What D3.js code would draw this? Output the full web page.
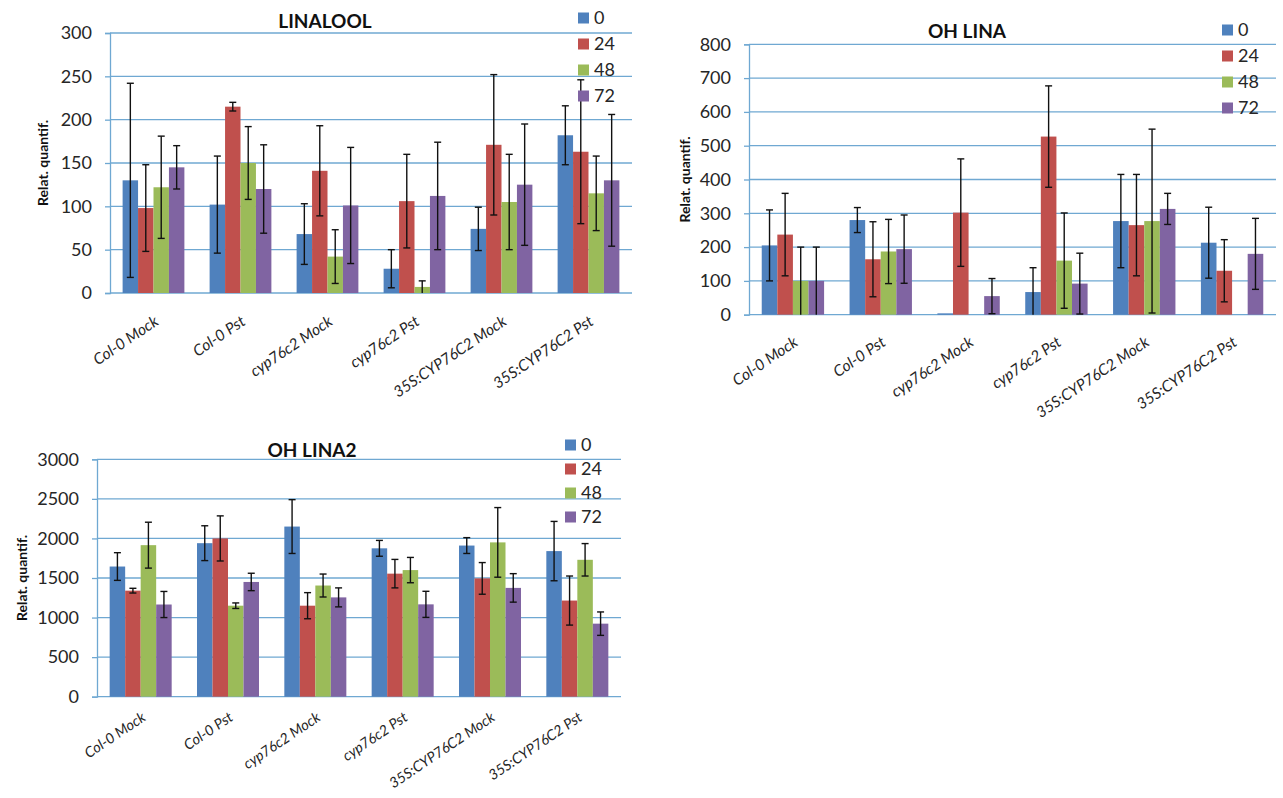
<!DOCTYPE html>
<html>
<head>
<meta charset="utf-8">
<script src="https://cdn.jsdelivr.net/npm/d3@7/dist/d3.min.js"></script>
<style>
  html, body { margin: 0; padding: 0; background: #ffffff; }
  svg { display: block; }
</style>
</head>
<body>
<svg id="chart" width="1283" height="798"></svg>
<script>
// ---------- DATA ----------
const categories = ["Col-0 Mock", "Col-0 Pst", "cyp76c2 Mock", "cyp76c2 Pst", "35S:CYP76C2 Mock", "35S:CYP76C2 Pst"];
const seriesNames = ["0", "24", "48", "72"];

// LINALOOL (rows = series 0, 24, 48, 72)
const linaloolMeans = [
  [130, 102, 68, 28, 74, 182],
  [98, 215, 141, 106, 171, 163],
  [122, 150, 42, 7, 105, 115],
  [145, 120, 101, 112, 125, 130]
];
const linaloolErrors = [
  [112, 56, 35, 22, 25, 34],
  [50, 5, 52, 54, 81, 83],
  [59, 42, 31, 7, 55, 43],
  [25, 51, 67, 62, 70, 76]
];
const linaloolTicks = [0, 50, 100, 150, 200, 250, 300];

// OH LINA
const ohLinaMeans = [
  [205, 280, 4, 67, 277, 213],
  [237, 164, 302, 527, 265, 130],
  [100, 187, 0, 160, 277, 0],
  [100, 194, 55, 92, 313, 180]
];
const ohLinaErrors = [
  [105, 37, 0, 72, 138, 105],
  [122, 111, 159, 150, 150, 92],
  [100, 95, 0, 141, 272, 0],
  [100, 101, 52, 90, 46, 105]
];
const ohLinaTicks = [0, 100, 200, 300, 400, 500, 600, 700, 800];

// OH LINA2
const ohLina2Means = [
  [1645, 1940, 2150, 1875, 1910, 1840],
  [1340, 2000, 1150, 1555, 1495, 1215],
  [1915, 1150, 1405, 1600, 1950, 1730],
  [1165, 1450, 1255, 1167, 1375, 923]
];
const ohLina2Errors = [
  [175, 220, 340, 100, 100, 375],
  [30, 285, 165, 180, 200, 310],
  [290, 35, 145, 160, 440, 205],
  [165, 110, 120, 165, 180, 148]
];
const ohLina2Ticks = [0, 500, 1000, 1500, 2000, 2500, 3000];

const titles = ["LINALOOL", "OH LINA", "OH LINA2"];
const yAxisLabel = "Relat. quantif.";

// ---------- STYLE / LAYOUT ----------
const colors = ["#4F81BD", "#C0504D", "#9BBB59", "#8064A2"];
const gridColor = "#6fa8d2";
const FONT = "Lato, 'Open Sans', sans-serif";

const charts = [
  { title: titles[0], means: linaloolMeans, errors: linaloolErrors, ticks: linaloolTicks,
    left: 110, right: 632, top: 33, bottom: 293, titleX: 325, titleY: 28,
    ylabX: 43, legX: 578, legY: 18, legStep: 26, labOff: 31, labSize: 15.5 },
  { title: titles[1], means: ohLinaMeans, errors: ohLinaErrors, ticks: ohLinaTicks,
    left: 749, right: 1276, top: 44.3, bottom: 314.7, titleX: 967, titleY: 38,
    ylabX: 685, legX: 1222, legY: 30, legStep: 26, labOff: 30, labSize: 15.5 },
  { title: titles[2], means: ohLina2Means, errors: ohLina2Errors, ticks: ohLina2Ticks,
    left: 97, right: 621, top: 459.3, bottom: 696.7, titleX: 312, titleY: 457,
    ylabX: 22, legX: 565, legY: 445, legStep: 24, labOff: 23, labSize: 14.5 }
];

const svg = d3.select("#chart");

function drawChart(cfg) {
  const g = svg.append("g");
  const maxV = d3.max(cfg.ticks);
  const x0 = d3.scaleBand().domain(categories).range([cfg.left, cfg.right])
    .paddingInner(0.29).paddingOuter(0.145);
  const x1 = d3.scaleBand().domain(seriesNames).range([0, x0.bandwidth()]);
  const y = d3.scaleLinear().domain([0, maxV]).range([cfg.bottom, cfg.top]).clamp(true);

  // gridlines
  g.append("g").selectAll("line").data(cfg.ticks).join("line")
    .attr("x1", cfg.left).attr("x2", cfg.right)
    .attr("y1", d => y(d)).attr("y2", d => y(d))
    .attr("stroke", gridColor).attr("stroke-width", 1.3);

  // y axis
  const ax = g.append("g").attr("transform", `translate(${cfg.left},0)`)
    .call(d3.axisLeft(y).tickValues(cfg.ticks).tickSize(5).tickPadding(13).tickFormat(d3.format("d")));
  ax.select(".domain").attr("stroke", gridColor).attr("stroke-width", 1.3);
  ax.selectAll(".tick line").attr("stroke", gridColor).attr("stroke-width", 1.3);
  ax.selectAll(".tick text").attr("font-family", FONT).attr("font-size", 18).attr("fill", "#262626");

  // bars
  const flat = [];
  cfg.means.forEach((row, si) => row.forEach((v, ci) => {
    flat.push({ s: seriesNames[si], si, c: categories[ci], v, e: cfg.errors[si][ci] });
  }));
  g.append("g").selectAll("rect").data(flat).join("rect")
    .attr("x", d => x0(d.c) + x1(d.s))
    .attr("y", d => y(d.v))
    .attr("width", x1.bandwidth())
    .attr("height", d => y(0) - y(d.v))
    .attr("fill", d => colors[d.si]);

  // error bars
  const eb = g.append("g").selectAll("g").data(flat.filter(d => d.e > 0)).join("g")
    .attr("stroke", "#111").attr("stroke-width", 1.4);
  const cx = d => x0(d.c) + x1(d.s) + x1.bandwidth() / 2;
  eb.append("line").attr("x1", cx).attr("x2", cx)
    .attr("y1", d => y(d.v + d.e)).attr("y2", d => y(d.v - d.e));
  eb.append("line").attr("x1", d => cx(d) - 3.5).attr("x2", d => cx(d) + 3.5)
    .attr("y1", d => y(d.v + d.e)).attr("y2", d => y(d.v + d.e));
  eb.filter(d => d.v - d.e > 0).append("line").attr("x1", d => cx(d) - 3.5).attr("x2", d => cx(d) + 3.5)
    .attr("y1", d => y(d.v - d.e)).attr("y2", d => y(d.v - d.e));

  // x labels
  g.append("g").selectAll("text").data(categories).join("text")
    .attr("transform", d => `translate(${x0(d) + x0.bandwidth() / 2 + 6},${cfg.bottom + cfg.labOff}) rotate(-34)`)
    .attr("text-anchor", "end")
    .attr("font-family", FONT).attr("font-size", cfg.labSize).attr("font-style", "italic")
    .attr("fill", "#262626")
    .text(d => d);

  // title
  g.append("text").attr("x", cfg.titleX).attr("y", cfg.titleY)
    .attr("text-anchor", "middle").attr("font-family", FONT)
    .attr("font-size", 19).attr("font-weight", "bold").attr("fill", "#111")
    .text(cfg.title);

  // y label
  g.append("text")
    .attr("transform", `translate(${cfg.ylabX},${(cfg.top + cfg.bottom) / 2}) rotate(-90)`)
    .attr("text-anchor", "middle").attr("dy", "0.35em")
    .attr("font-family", FONT).attr("font-size", 14).attr("font-weight", "bold").attr("fill", "#111")
    .text(yAxisLabel);

  // legend
  const leg = g.append("g").selectAll("g").data(seriesNames).join("g")
    .attr("transform", (d, i) => `translate(${cfg.legX},${cfg.legY + i * cfg.legStep})`);
  leg.append("rect").attr("x", 0).attr("y", -5.5).attr("width", 11).attr("height", 11)
    .attr("fill", (d, i) => colors[i]);
  leg.append("text").attr("x", 16).attr("y", 0).attr("dy", "0.36em")
    .attr("font-family", FONT).attr("font-size", 18).attr("fill", "#262626")
    .text(d => d);
}

charts.forEach(drawChart);
</script>
</body>
</html>
